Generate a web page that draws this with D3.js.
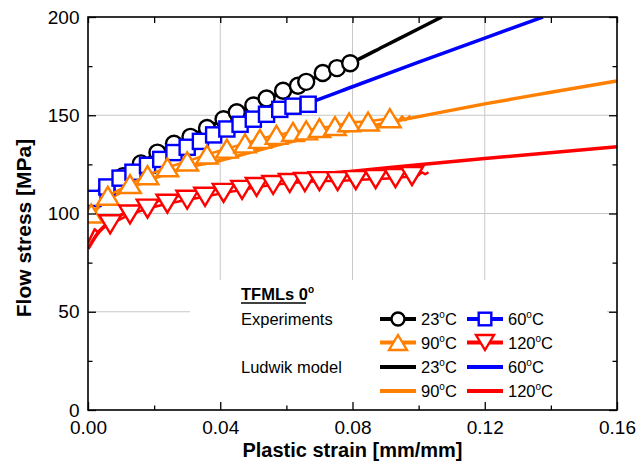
<!DOCTYPE html>
<html>
<head>
<meta charset="utf-8">
<script src="https://cdn.jsdelivr.net/npm/d3@7"></script>
<style>
  body { margin: 0; background: #fff; }
  svg { font-family: "Liberation Sans", Arial, sans-serif; }
</style>
</head>
<body>
<div id="chart"></div>
<script>
// experimental points [strain, stress] (markers)
const exp23 = [[0.0057,112],[0.0106,119],[0.016,125.5],[0.021,131],[0.026,135.5],[0.031,139],[0.036,143.5],[0.041,148],[0.045,151.5],[0.050,155],[0.054,158.5],[0.059,162.5],[0.0635,165],[0.066,167],[0.071,171.5],[0.0753,174],[0.0793,176.5]];
const exp60 = [[0.0015,107.7],[0.0057,113.5],[0.0097,118],[0.0136,121],[0.018,124.5],[0.022,127.5],[0.026,131],[0.030,133.7],[0.034,136.7],[0.038,140],[0.042,143],[0.046,145.4],[0.050,148],[0.054,150.5],[0.058,153],[0.062,154.6],[0.0666,155.6]];
const exp90 = [[0.001,100],[0.006,109],[0.0127,115],[0.018,119.5],[0.024,123.5],[0.030,126.5],[0.036,130],[0.042,133],[0.0475,135.7],[0.052,138],[0.057,140],[0.062,141.5],[0.066,142.3],[0.070,143.5],[0.0747,144.5],[0.079,146.4],[0.0847,146.8],[0.0913,148.5]];
const exp120 = [[0.0067,94.5],[0.0127,99.5],[0.018,102.5],[0.024,105],[0.030,107],[0.0354,108.5],[0.041,110.5],[0.0466,112],[0.051,113.5],[0.056,114.5],[0.061,115.5],[0.0656,116],[0.070,116.5],[0.0755,116.5],[0.081,117],[0.087,117.5],[0.093,118],[0.098,119]];

// noisy ends of the test curves
const tail60 = [[0.0666,155.6],[0.068,157],[0.069,157.6],[0.0708,158.7]];
const tail90 = [[0.0913,147.5],[0.093,148.5],[0.094,147],[0.095,149.5],[0.096,147.5],[0.0975,149.8]];
const tail120 = [[0.098,120],[0.099,120.5],[0.100,119.5],[0.101,121],[0.102,120],[0.103,121]];
const start120 = [[0,85],[0.002,92],[0.003,90.5],[0.005,94],[0.0067,94.5]];

// Ludwik model curves [strain, stress]
const lud23 = [[0,103],[0.005,111],[0.01,118],[0.02,130],[0.03,138.5],[0.04,147],[0.05,155],[0.06,162.5],[0.07,170],[0.08,177],[0.09,185.5],[0.1,194],[0.107,200]];
const lud60 = [[0,106],[0.003,110],[0.007,114.5],[0.012,119],[0.02,125.5],[0.03,133],[0.04,140],[0.05,146.5],[0.06,152.5],[0.07,158.2],[0.08,164.5],[0.1,177],[0.12,189.3],[0.1376,200]];
const lud90 = [[0,96],[0.003,103],[0.007,108],[0.012,112.5],[0.02,118],[0.03,123.5],[0.04,127],[0.05,131.5],[0.06,136],[0.07,139.3],[0.08,142.5],[0.09,146],[0.1,149.3],[0.12,155.8],[0.14,161.7],[0.16,167.5]];
const lud120 = [[0,82],[0.003,90],[0.007,96],[0.012,101],[0.02,106],[0.03,110],[0.04,113],[0.05,116],[0.06,118],[0.07,120],[0.08,121.5],[0.1,124.8],[0.12,128],[0.16,134]];

const temps = ['23', '60', '90', '120'];
const colors = ['#000000', '#0000ff', '#ff8000', '#ff0000'];
const shapes = ['circle', 'square', 'up', 'down'];
const xTicks = [0, 0.04, 0.08, 0.12, 0.16];
const xMinor = [0.02, 0.06, 0.10, 0.14];
const yTicks = [0, 50, 100, 150, 200];
const yMinor = [25, 75, 125, 175];

const width = 638, height = 463;
const mL = 88, mR = 617, mT = 17, mB = 410;

const svg = d3.select('#chart').append('svg')
  .attr('width', width)
  .attr('height', height);

const x = d3.scaleLinear().domain([0, 0.16]).range([mL, mR]);
const y = d3.scaleLinear().domain([0, 200]).range([mB, mT]);

svg.append('clipPath').attr('id', 'clip')
  .append('rect').attr('x', mL).attr('y', mT)
  .attr('width', mR - mL).attr('height', mB - mT);

// grid
svg.append('g').selectAll('line').data([0.04, 0.08, 0.12]).enter().append('line')
  .attr('x1', d => x(d)).attr('x2', d => x(d)).attr('y1', mT).attr('y2', mB)
  .attr('stroke', '#c8c8c8').attr('stroke-width', 1);
svg.append('g').selectAll('line').data([50, 100, 150]).enter().append('line')
  .attr('y1', d => y(d)).attr('y2', d => y(d)).attr('x1', mL).attr('x2', mR)
  .attr('stroke', '#c8c8c8').attr('stroke-width', 1);

// legend background hides the grid
svg.append('rect').attr('x', 190).attr('y', 280).attr('width', 417).attr('height', mB - 280)
  .attr('fill', '#fff');

const line = d3.line().x(d => x(d[0])).y(d => y(d[1]));
const smooth = d3.line().x(d => x(d[0])).y(d => y(d[1])).curve(d3.curveMonotoneX);

const plot = svg.append('g').attr('clip-path', 'url(#clip)');

function marker(sel, shape, color, s) {
  if (shape === 'circle') {
    sel.append('circle').attr('r', s * 0.5).attr('fill', '#fff').attr('stroke', color).attr('stroke-width', 2.4);
  } else if (shape === 'square') {
    sel.append('rect').attr('x', -s * 0.42).attr('y', -s * 0.42).attr('width', s * 0.84).attr('height', s * 0.84)
      .attr('fill', '#fff').attr('stroke', color).attr('stroke-width', 2.4);
  } else {
    const w = s * 0.6, h = s * 0.5, k = shape === 'up' ? 1 : -1;
    sel.append('path').attr('d', `M0,${-h * k}L${w},${h * k}L${-w},${h * k}Z`)
      .attr('fill', '#fff').attr('stroke', color).attr('stroke-width', 2.4);
  }
}

// model lines
[lud23, lud60, lud90, lud120].forEach((d, i) => {
  plot.append('path').datum(d).attr('d', smooth)
    .attr('fill', 'none').attr('stroke', colors[i]).attr('stroke-width', 3.5);
});

// experiments: line + markers
const expSets = [exp23, exp60, exp90, exp120];
const expLines = [
  [[0, 104]].concat(exp23),
  [[0, 106]].concat(exp60, tail60),
  [[0, 98]].concat(exp90, tail90),
  start120.concat(exp120, tail120)
];
expSets.forEach((d, i) => {
  plot.append('path').datum(expLines[i]).attr('d', line)
    .attr('fill', 'none').attr('stroke', colors[i]).attr('stroke-width', 2.5)
    .attr('stroke-linejoin', 'round');
  plot.append('g').selectAll('g').data(d).enter().append('g')
    .attr('transform', p => `translate(${x(p[0])},${y(p[1])})`)
    .each(function() { marker(d3.select(this), shapes[i], colors[i], i === 0 ? 16 : 18); });
});

// axes
const fmt = d3.format('.2f');
function styleAxis(g) {
  g.select('.domain').remove();
  g.selectAll('line').attr('stroke', '#000').attr('stroke-width', 1.3);
  g.selectAll('text').attr('font-size', 19).attr('fill', '#000');
}
svg.append('g').attr('transform', `translate(0,${mB})`)
  .call(d3.axisBottom(x).tickValues(xTicks).tickSize(-8).tickPadding(11).tickFormat(fmt)).call(styleAxis);
svg.append('g').attr('transform', `translate(0,${mB})`)
  .call(d3.axisBottom(x).tickValues(xMinor).tickSize(-4.5).tickFormat('')).call(styleAxis);
svg.append('g').attr('transform', `translate(0,${mT})`)
  .call(d3.axisTop(x).tickValues(xTicks.concat(xMinor)).tickSize(-6).tickFormat('')).call(styleAxis);
svg.append('g').attr('transform', `translate(${mL},0)`)
  .call(d3.axisLeft(y).tickValues(yTicks).tickSize(-8).tickPadding(8.5)).call(styleAxis);
svg.append('g').attr('transform', `translate(${mL},0)`)
  .call(d3.axisLeft(y).tickValues(yMinor).tickSize(-4.5).tickFormat('')).call(styleAxis);
svg.append('g').attr('transform', `translate(${mR},0)`)
  .call(d3.axisRight(y).tickValues(yTicks).tickSize(-8).tickFormat('')).call(styleAxis);
svg.append('g').attr('transform', `translate(${mR},0)`)
  .call(d3.axisRight(y).tickValues(yMinor).tickSize(-4.5).tickFormat('')).call(styleAxis);

svg.append('rect').attr('x', mL).attr('y', mT).attr('width', mR - mL).attr('height', mB - mT)
  .attr('fill', 'none').attr('stroke', '#000').attr('stroke-width', 1.6);

// axis titles
svg.append('text').attr('x', (mL + mR) / 2).attr('y', 457)
  .attr('text-anchor', 'middle').attr('font-size', 20).attr('font-weight', 'bold')
  .text('Plastic strain [mm/mm]');
svg.append('text').attr('transform', 'translate(31,228) rotate(-90)')
  .attr('text-anchor', 'middle').attr('font-size', 21).attr('font-weight', 'bold')
  .text('Flow stress [MPa]');

// legend
const leg = svg.append('g').attr('font-size', 16.5);
function degText(g, xx, yy, pre, bold) {
  const t = g.append('text').attr('x', xx).attr('y', yy);
  if (bold) t.attr('font-weight', 'bold');
  t.append('tspan').text(pre);
  t.append('tspan').attr('font-size', 10).attr('dy', -7).text('o');
  t.append('tspan').attr('dy', 7).text(bold ? '' : 'C');
  return t;
}
degText(leg, 241, 300, 'TFMLs 0', true);
leg.append('line').attr('x1', 241).attr('x2', 306).attr('y1', 303).attr('y2', 303)
  .attr('stroke', '#000').attr('stroke-width', 1.5);
leg.append('text').attr('x', 241).attr('y', 325).text('Experiments');
leg.append('text').attr('x', 241).attr('y', 373).text('Ludwik model');

const rowsY = [319, 342.5, 367, 391];
const cols = [{x0: 380, x1: 416, t: 421}, {x0: 467, x1: 503, t: 508}];
temps.forEach((tp, i) => {
  const c = cols[i % 2];
  const rExp = rowsY[Math.floor(i / 2)];
  const rLud = rowsY[2 + Math.floor(i / 2)];
  leg.append('line').attr('x1', c.x0).attr('x2', c.x1).attr('y1', rExp).attr('y2', rExp)
    .attr('stroke', colors[i]).attr('stroke-width', 4);
  const m = leg.append('g').attr('transform', `translate(${(c.x0 + c.x1) / 2},${rExp})`);
  marker(m, shapes[i], colors[i], i === 0 ? 13 : 15);
  degText(leg, c.t, rExp + 6, tp, false);
  leg.append('line').attr('x1', c.x0).attr('x2', c.x1).attr('y1', rLud).attr('y2', rLud)
    .attr('stroke', colors[i]).attr('stroke-width', 4);
  degText(leg, c.t, rLud + 6, tp, false);
});
</script>
</body>
</html>
